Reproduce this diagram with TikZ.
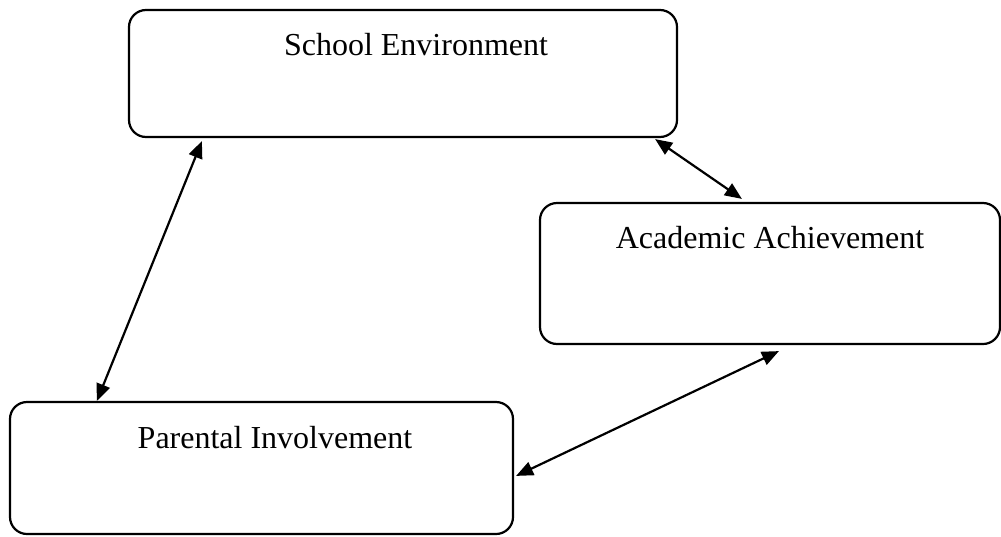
\documentclass[tikz,border=0pt]{standalone}
\usepackage{fontspec}
\setmainfont{Liberation Serif}
\usetikzlibrary{arrows.meta,calc}
\begin{document}
\begin{tikzpicture}[x=1pt,y=-1pt,
  box/.style={draw,line width=2.2pt,rounded corners=17pt,inner sep=0pt},
  lbl/.style={anchor=base,inner sep=0pt,font=\fontsize{32}{38}\selectfont},
  link/.style={line width=2.2pt,{Triangle[length=17pt,width=14pt]}-{Triangle[length=17pt,width=14pt]}}]
\useasboundingbox (0,0) rectangle (1001,536);
\node[box,minimum width=548pt,minimum height=127pt] (school) at (403,73.5) {};
\node[box,minimum width=460pt,minimum height=141pt] (academic) at (770,273.5) {};
\node[box,minimum width=503pt,minimum height=132pt] (parental) at (261.5,468) {};
\node[lbl] (tschool) at (416,55) {School Environment};
\node[lbl] (tacademic) at (770,248) {Academic Achievement};
\node[lbl] (tparental) at (275,448) {Parental Involvement};
\draw[link] ($(parental.north west)+(88,0)$) -- ($(school.south west)+(74,3)$);
\draw[link] ($(school.south east)+(-23,1)$) -- ($(academic.north west)+(203,-3)$);
\draw[link] ($(parental.north east)+(2,75)$) -- ($(academic.south west)+(240,6)$);
\end{tikzpicture}
\end{document}
